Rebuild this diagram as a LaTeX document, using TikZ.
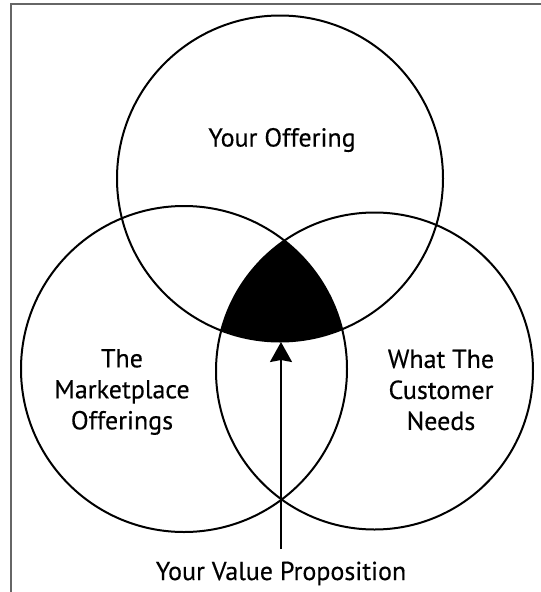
\documentclass[tikz,border=0pt]{standalone}
\usepackage{fontspec}
\setmainfont{PT Sans}
\newfontfamily\lblfont{PT Sans}[FakeBold=0.35]
\usetikzlibrary{arrows.meta}
\begin{document}
\begin{tikzpicture}[x=1pt,y=-1pt,
  ring/.style={draw=black,line width=2pt,circle,inner sep=0pt,outer sep=0pt},
  lbl/.style={font=\lblfont\fontsize{26}{31}\selectfont,align=center,inner sep=0pt},
  pointer/.style={line width=2pt,-{Stealth[width=22pt,length=20pt,inset=2pt]}},
  frame/.style={line width=1.6pt,draw=black!60}]
\useasboundingbox (0,0) rectangle (541,592);
\draw[frame] (11,600) -- (11,4) -- (560,4);
% circles
\node[ring,minimum size=326pt] (offer) at (280,178.5) {};
\node[ring,minimum size=326pt] (market) at (184,369) {};
\node[ring,minimum size=317pt] (customer) at (374.5,371) {};
% common region
\begin{scope}
  \clip (offer.center) circle[radius=163pt];
  \clip (market.center) circle[radius=163pt];
  \fill[black] (customer.center) circle[radius=158.5pt];
\end{scope}
% labels
\node[lbl,anchor=base] (tOffer) at (282,146.5) {Your Offering};
\node[lbl] (tMarket) at (122,392) {The\\Marketplace\\Offerings};
\node[lbl] (tCustomer) at (441,390) {What The\\Customer\\Needs};
\node[lbl,anchor=base] (tValue) at (281,580) {Your Value Proposition};
% arrow
\coordinate (vpbase) at (281,549);
\coordinate (vptip) at (281,342);
\draw[pointer] (vpbase) -- (vptip);
\end{tikzpicture}
\end{document}
